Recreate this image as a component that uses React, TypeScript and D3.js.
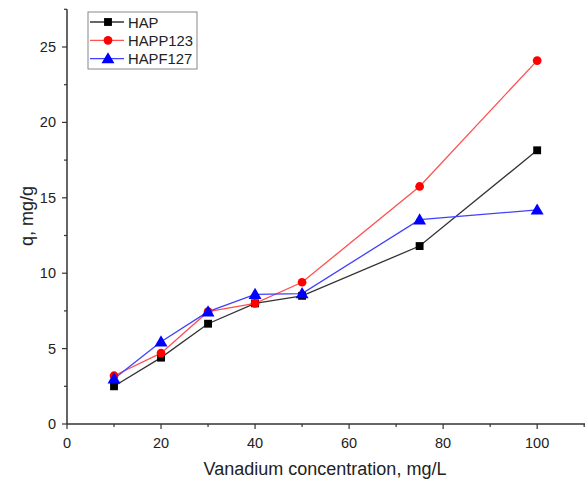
import React, { useEffect, useRef } from 'react';
import * as d3 from 'd3';

const concentrations = [10, 20, 30, 40, 50, 75, 100];
const hapValues = [2.5, 4.4, 6.65, 8.0, 8.5, 11.8, 18.15];
const happ123Values = [3.2, 4.7, 7.45, 8.0, 9.4, 15.75, 24.1];
const hapf127Values = [3.0, 5.45, 7.45, 8.6, 8.65, 13.55, 14.2];
const seriesNames = ['HAP', 'HAPP123', 'HAPF127'];
const xTicks = [0, 20, 40, 60, 80, 100];
const yTicks = [0, 5, 10, 15, 20, 25];

const FONT = 'Liberation Sans, Arial, sans-serif';

export default function App() {
  const svgRef = useRef<SVGSVGElement | null>(null);

  useEffect(() => {
    const svg = d3.select(svgRef.current);
    svg.selectAll('*').remove();

    const x = d3.scaleLinear().domain([0, 110.6]).range([67, 587]);
    const y = d3.scaleLinear().domain([0, 27.5]).range([424, 9.3]);

    const series = [
      { name: seriesNames[0], values: hapValues, line: '#333333', fill: '#000000', shape: d3.symbolSquare },
      { name: seriesNames[1], values: happ123Values, line: '#ff5050', fill: '#ff0000', shape: d3.symbolCircle },
      { name: seriesNames[2], values: hapf127Values, line: '#4040ff', fill: '#0000ff', shape: d3.symbolTriangle },
    ];
    const symSize = (shape: any) => (shape === d3.symbolTriangle ? 72 : shape === d3.symbolSquare ? 62 : 60);

    // axes
    const xAxis = svg.append('g').attr('transform', `translate(0,${y(0)})`);
    xAxis.append('line').attr('x1', x(0)).attr('x2', 585).attr('stroke', '#333').attr('stroke-width', 1.5);
    d3.range(0, 111, 10).forEach(v => {
      const major = v % 20 === 0;
      xAxis.append('line')
        .attr('x1', x(v)).attr('x2', x(v))
        .attr('y1', 0).attr('y2', major ? 5 : 3)
        .attr('stroke', '#333').attr('stroke-width', 1.2);
    });
    xTicks.forEach(v => {
      xAxis.append('text')
        .attr('x', x(v)).attr('y', 24)
        .attr('text-anchor', 'middle')
        .attr('font-family', FONT).attr('font-size', 14.5).attr('fill', '#222')
        .text(v);
    });

    const yAxis = svg.append('g').attr('transform', `translate(${x(0)},0)`);
    yAxis.append('line').attr('y1', y(0)).attr('y2', y(27.5)).attr('stroke', '#333').attr('stroke-width', 1.5);
    d3.range(0, 27.6, 2.5).forEach(v => {
      const major = v % 5 === 0;
      yAxis.append('line')
        .attr('x1', 0).attr('x2', major ? -5 : -3)
        .attr('y1', y(v)).attr('y2', y(v))
        .attr('stroke', '#333').attr('stroke-width', 1.2);
    });
    yTicks.forEach(v => {
      yAxis.append('text')
        .attr('x', -11).attr('y', y(v) + 5)
        .attr('text-anchor', 'end')
        .attr('font-family', FONT).attr('font-size', 14.5).attr('fill', '#222')
        .text(v);
    });

    svg.append('text')
      .attr('x', 325).attr('y', 475)
      .attr('text-anchor', 'middle')
      .attr('font-family', FONT).attr('font-size', 18).attr('fill', '#222')
      .text('Vanadium concentration, mg/L');

    svg.append('text')
      .attr('transform', `translate(33,${216}) rotate(-90)`)
      .attr('text-anchor', 'middle')
      .attr('font-family', FONT).attr('font-size', 18).attr('fill', '#222')
      .text('q, mg/g');

    const line = d3.line<number>()
      .x((_, i) => x(concentrations[i]))
      .y(d => y(d));

    series.forEach(s => {
      svg.append('path')
        .attr('d', line(s.values))
        .attr('fill', 'none')
        .attr('stroke', s.line)
        .attr('stroke-width', 1.3);
    });

    series.forEach(s => {
      const sym = d3.symbol().type(s.shape).size(symSize(s.shape));
      svg.selectAll(null)
        .data(s.values)
        .enter()
        .append('path')
        .attr('d', sym)
        .attr('transform', (d, i) => `translate(${x(concentrations[i])},${y(d) + (s.shape === d3.symbolTriangle ? 1 : 0)})`)
        .attr('fill', s.fill);
    });

    // legend
    const legend = svg.append('g').attr('transform', 'translate(88,12)');
    legend.append('rect')
      .attr('width', 109).attr('height', 57)
      .attr('fill', 'white').attr('stroke', '#888').attr('stroke-width', 1);
    series.forEach((s, i) => {
      const ly = 10 + i * 18.3;
      legend.append('line')
        .attr('x1', 2).attr('x2', 36).attr('y1', ly).attr('y2', ly)
        .attr('stroke', s.line).attr('stroke-width', 1.3);
      legend.append('path')
        .attr('d', d3.symbol().type(s.shape).size(symSize(s.shape))())
        .attr('transform', `translate(20,${ly + (s.shape === d3.symbolTriangle ? 1 : 0)})`)
        .attr('fill', s.fill);
      legend.append('text')
        .attr('x', 40).attr('y', ly + 5.5)
        .attr('font-family', FONT).attr('font-size', 14.8).attr('fill', '#222')
        .text(s.name);
    });
  }, []);

  return (
    <svg ref={svgRef} width={585} height={479}
      style={{ position: 'absolute', left: 0, top: 0, background: 'white', display: 'block' }} />
  );
}
